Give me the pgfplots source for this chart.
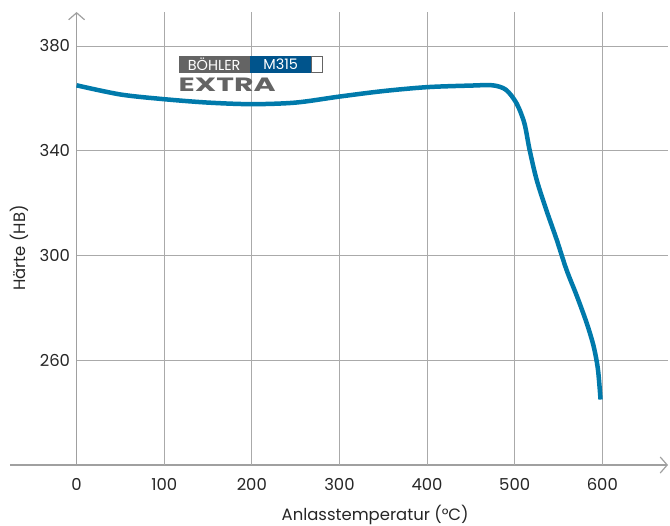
\documentclass[border=0pt]{standalone}
\usepackage{fontspec}
\setmainfont{Poppins}
\usepackage{graphicx}
\usepackage{pgfplots}
\pgfplotsset{compat=1.18}
\usetikzlibrary{arrows.meta}
\definecolor{curveblue}{RGB}{0,122,171}
\definecolor{gridgray}{RGB}{170,170,170}
\definecolor{axisgray}{RGB}{160,160,160}
\definecolor{logogray}{RGB}{100,100,100}
\definecolor{logoblue}{RGB}{0,84,140}

\begin{document}
\begin{tikzpicture}
\begin{axis}[
    scale only axis,
    width=658bp, height=453bp,
    xmin=-76, xmax=675,
    ymin=220, ymax=393,
    axis x line=bottom,
    axis y line=middle,
    x axis line style={draw=axisgray, line width=1.2bp, -{Straight Barb[length=7bp,width=16bp]}},
    y axis line style={draw=axisgray, line width=1.2bp, -{Straight Barb[length=7bp,width=16bp]}},
    xtick={0,100,200,300,400,500,600},
    ytick={260,300,340,380},
    hide obscured x ticks=false,
    hide obscured y ticks=false,
    major tick length=0pt,
    font=\fontsize{16.5}{19}\selectfont,
    /pgf/number format/assume math mode=true,
    xticklabel style={text=black!85, anchor=north, yshift=-10bp},
    yticklabel style={text=black!85, anchor=east, xshift=-3bp},
    xlabel={Anlasstemperatur (°C)},
    ylabel={Härte (HB)},
    xlabel style={at={(axis description cs:0.555,-0.1236)}, anchor=base, text=black!85},
    ylabel style={at={(axis description cs:0.0137,0.479)}, anchor=center, rotate=90, text=black!85},
    clip=false,
]
% grid
\draw[gridgray, line width=1bp] (axis cs:100,220) -- (axis cs:100,393);
\draw[gridgray, line width=1bp] (axis cs:200,220) -- (axis cs:200,393);
\draw[gridgray, line width=1bp] (axis cs:300,220) -- (axis cs:300,393);
\draw[gridgray, line width=1bp] (axis cs:400,220) -- (axis cs:400,393);
\draw[gridgray, line width=1bp] (axis cs:500,220) -- (axis cs:500,393);
\draw[gridgray, line width=1bp] (axis cs:600,220) -- (axis cs:600,393);
\draw[gridgray, line width=1bp] (axis cs:0,260) -- (axis cs:675,260);
\draw[gridgray, line width=1bp] (axis cs:0,300) -- (axis cs:675,300);
\draw[gridgray, line width=1bp] (axis cs:0,340) -- (axis cs:675,340);
\draw[gridgray, line width=1bp] (axis cs:0,380) -- (axis cs:675,380);

\addplot[curveblue, line width=4.5bp, smooth, line cap=butt] coordinates {
    (0,365) (50,361.5) (100,359.7) (150,358.4) (200,357.8) (250,358.4)
    (300,360.7) (350,362.8) (400,364.3) (450,364.9) (475,365.0)
    (490,363.3) (502,358.2) (511,350.6) (517,340.4) (525,329)
    (536,317.5) (548,306) (559,294.7) (571,284.5) (582,274.4)
    (590,265.5) (595,256.6) (598,245)
};

\coordinate (logo) at (axis cs:116.5,376.2);
\coordinate (bl) at (rel axis cs:0,0);
\coordinate (tr) at (rel axis cs:1,1);
\end{axis}

% logo
\begin{scope}[shift={(logo)}, x=1bp, y=1bp]
  \fill[logogray] (0,0) rectangle (71,-17);
  \fill[logoblue] (71,0) rectangle (133,-17);
  \draw[logogray, line width=0.8bp] (133,-0.4) rectangle (143.6,-16.6);
  \node[white, inner sep=0, font=\fontsize{14.5}{15}\selectfont] at (35.5,-8.5) {BÖHLER};
  \node[white, inner sep=0, font=\fontsize{14.5}{15}\selectfont] at (102,-8.5) {M315};
  \node[logogray, inner sep=0] at (48.5,-28.5) {\resizebox{97bp}{13.5bp}{\bfseries EXTRA}};
\end{scope}

\pgfresetboundingbox
\path ([shift={(-10bp,-61bp)}]bl) rectangle ([shift={(2bp,12bp)}]tr);
\end{tikzpicture}
\end{document}
